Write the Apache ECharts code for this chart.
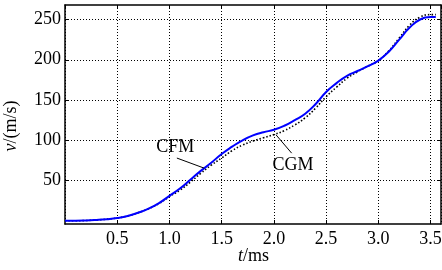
<!DOCTYPE html>
<html lang="en">
<head>
  <meta charset="UTF-8">
  <title>v-t</title>
  <style>
    html, body { margin: 0; padding: 0; background: #fff; }
    #main { width: 442px; height: 270px; }
  </style>
</head>
<body>
  <div id="main"></div>
  <script src="https://cdn.jsdelivr.net/npm/echarts@6/dist/echarts.min.js"></script>
  <script>
    // t (ms) and velocity (m/s)
    const tValues = [0, 0.1, 0.2, 0.3, 0.4, 0.5, 0.6, 0.7, 0.8, 0.9, 1.0, 1.1, 1.2, 1.3, 1.4, 1.5, 1.6, 1.7, 1.8,
      1.9, 2.0, 2.1, 2.2, 2.3, 2.4, 2.5, 2.6, 2.7, 2.8, 2.9, 3.0, 3.1, 3.2, 3.3, 3.4, 3.5, 3.55]
    const cfmValues = [0, 0, 0.3, 1, 2, 3.5, 6, 10, 15, 22, 31, 40, 51, 62, 72, 83, 92, 100, 106,
      110, 113, 118, 125, 133, 145, 160, 171, 180, 186, 192, 199, 210, 225, 240, 250, 253, 253]
    const cgmValues = [0, 0, 0.3, 1, 2, 3.5, 6, 10, 15, 21.5, 30, 38, 48, 59, 69, 78, 87, 94, 99,
      103, 107, 112, 119, 128, 140, 154, 166, 177, 185, 192, 199, 211, 227, 243, 253, 256, 256]
    const yTicks = [50, 100, 150, 200, 250]

    const font = 'Liberation Serif'
    const cfmData = tValues.map((t, i) => [t, cfmValues[i]])
    const cgmData = tValues.map((t, i) => [t, cgmValues[i]])

    const myChart = echarts.init(document.getElementById('main'))

    const tickStyle = () => ({ inside: true, length: 4, lineStyle: { color: '#000', width: 1 } })
    const axisLine = () => ({ show: true, onZero: false, lineStyle: { color: '#000', width: 1.5 } })
    const gridLine = () => ({ show: true, lineStyle: { color: '#000', width: 1, type: [1, 2] } })

    const option = {
      animation: false,
      grid: { left: 65, top: 5, right: 1, bottom: 46, show: false, containLabel: false, outerBoundsMode: 'none' },
      xAxis: [
        {
          type: 'value', min: 0, max: 3.6, interval: 0.5,
          axisLine: axisLine(), axisTick: tickStyle(), splitLine: gridLine(),
          axisLabel: {
            color: '#000', fontFamily: font, fontSize: 18, margin: 6,
            showMinLabel: false, showMaxLabel: false,
            formatter: v => v.toFixed(1)
          }
        },
        {
          type: 'value', position: 'top', min: 0, max: 3.6, interval: 0.5,
          axisLine: axisLine(), axisTick: tickStyle(), splitLine: { show: false },
          axisLabel: { show: false }
        }
      ],
      yAxis: [
        {
          type: 'value', min: -4, max: 268,
          axisLine: axisLine(),
          axisTick: Object.assign({ customValues: yTicks }, tickStyle()),
          splitLine: gridLine(),
          axisLabel: { color: '#000', fontFamily: font, fontSize: 18, margin: 4, customValues: yTicks }
        },
        {
          type: 'value', position: 'right', min: -4, max: 268,
          axisLine: axisLine(),
          axisTick: Object.assign({ customValues: yTicks }, tickStyle()),
          splitLine: { show: false },
          axisLabel: { show: false }
        }
      ],
      series: [
        {
          name: 'CGM', type: 'line', data: cgmData, smooth: true, symbol: 'none',
          lineStyle: { color: '#000', width: 1.6, type: [1.5, 2] },
          markLine: {
            silent: true, symbol: 'none', label: { show: false },
            lineStyle: { color: '#000', width: 1, type: 'solid' },
            data: [[{ coord: [2.02, 106.8] }, { coord: [2.17, 84] }]]
          },
          markPoint: {
            symbol: 'circle', symbolSize: 0,
            label: { show: true, position: 'inside', formatter: 'CGM', color: '#000', fontFamily: font, fontSize: 18 },
            data: [{ coord: [2.183, 69.5] }]
          }
        },
        {
          name: 'CFM', type: 'line', data: cfmData, smooth: true, symbol: 'none',
          lineStyle: { color: '#0000ff', width: 2 },
          markLine: {
            silent: true, symbol: 'none', label: { show: false },
            lineStyle: { color: '#000', width: 1, type: 'solid' },
            data: [[{ coord: [1.071, 77.9] }, { coord: [1.332, 65.4] }]]
          },
          markPoint: {
            symbol: 'circle', symbolSize: 0,
            label: { show: true, position: 'inside', formatter: 'CFM', color: '#000', fontFamily: font, fontSize: 18 },
            data: [{ coord: [1.055, 90.7] }]
          }
        }
      ],
      graphic: [
        {
          type: 'text', left: 238, top: 247,
          style: {
            text: '{i|t}/ms', fontFamily: font, fontSize: 18, fill: '#000',
            rich: { i: { fontStyle: 'italic', fontFamily: font, fontSize: 18 } }
          }
        },
        {
          type: 'text', x: 11, y: 126, rotation: Math.PI / 2,
          style: {
            text: '{i|v}/(m/s)', fontFamily: font, fontSize: 18, fill: '#000',
            align: 'center', verticalAlign: 'middle',
            rich: { i: { fontStyle: 'italic', fontFamily: font, fontSize: 18 } }
          }
        }
      ]
    }

    myChart.setOption(option)
  </script>
</body>
</html>
